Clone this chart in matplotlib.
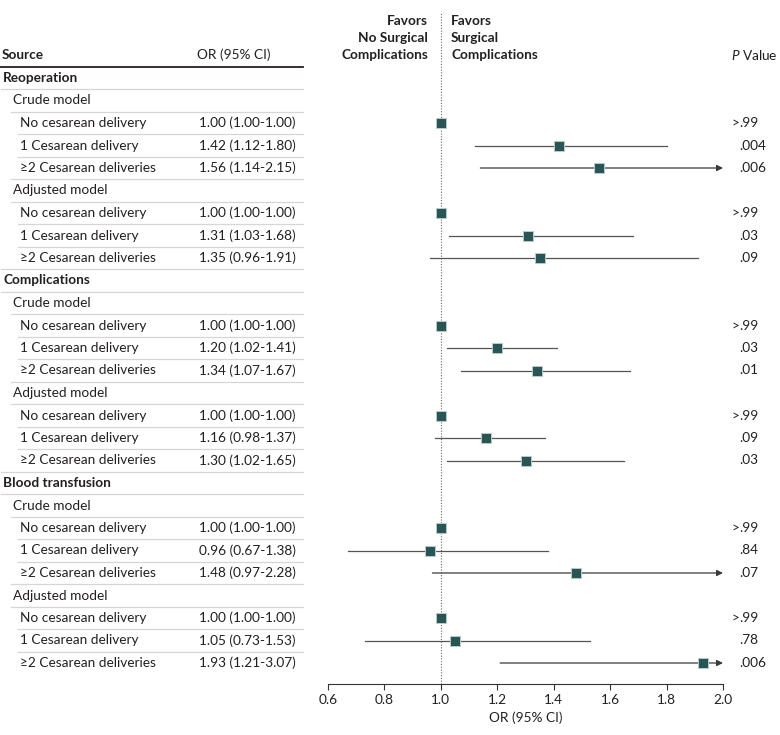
import numpy as np
import matplotlib
matplotlib.use("Agg")
import matplotlib.pyplot as plt
from matplotlib.transforms import blended_transform_factory

plt.rcParams['font.family'] = ['Lato', 'DejaVu Sans']
plt.rcParams['mathtext.fontset'] = 'custom'
plt.rcParams['mathtext.rm'] = 'Lato'
plt.rcParams['mathtext.it'] = 'Lato:italic'

# rows of the table: (label, level)  level 0 = outcome, 1 = model, 2 = exposure
labels = ["Reoperation",
          "Crude model", "No cesarean delivery", "1 Cesarean delivery", "≥2 Cesarean deliveries",
          "Adjusted model", "No cesarean delivery", "1 Cesarean delivery", "≥2 Cesarean deliveries",
          "Complications",
          "Crude model", "No cesarean delivery", "1 Cesarean delivery", "≥2 Cesarean deliveries",
          "Adjusted model", "No cesarean delivery", "1 Cesarean delivery", "≥2 Cesarean deliveries",
          "Blood transfusion",
          "Crude model", "No cesarean delivery", "1 Cesarean delivery", "≥2 Cesarean deliveries",
          "Adjusted model", "No cesarean delivery", "1 Cesarean delivery", "≥2 Cesarean deliveries"]
levels = [0, 1, 2, 2, 2, 1, 2, 2, 2,
          0, 1, 2, 2, 2, 1, 2, 2, 2,
          0, 1, 2, 2, 2, 1, 2, 2, 2]

# estimates for the exposure rows (None for header rows)
odds = [None, None, 1.00, 1.42, 1.56, None, 1.00, 1.31, 1.35,
        None, None, 1.00, 1.20, 1.34, None, 1.00, 1.16, 1.30,
        None, None, 1.00, 0.96, 1.48, None, 1.00, 1.05, 1.93]
lower = [None, None, 1.00, 1.12, 1.14, None, 1.00, 1.03, 0.96,
         None, None, 1.00, 1.02, 1.07, None, 1.00, 0.98, 1.02,
         None, None, 1.00, 0.67, 0.97, None, 1.00, 0.73, 1.21]
upper = [None, None, 1.00, 1.80, 2.15, None, 1.00, 1.68, 1.91,
         None, None, 1.00, 1.41, 1.67, None, 1.00, 1.37, 1.65,
         None, None, 1.00, 1.38, 2.28, None, 1.00, 1.53, 3.07]
pvals = [None, None, ">.99", ".004", ".006", None, ">.99", ".03", ".09",
         None, None, ">.99", ".03", ".01", None, ">.99", ".09", ".03",
         None, None, ">.99", ".84", ".07", None, ">.99", ".78", ".006"]

W, H = 780, 735
fig = plt.figure(figsize=(W / 100, H / 100), dpi=100)

# axes spans x 0.6 .. 2.0 ; y in row units
ax_left, ax_right = 328, 723
ax_top, ax_bot = 13, 684
ax = fig.add_axes([ax_left / W, 1 - ax_bot / H, (ax_right - ax_left) / W, (ax_bot - ax_top) / H])
row0, step = 78, 22.5
ax.set_ylim((ax_bot - row0) / step, (ax_top - row0) / step)
xmin, xmax = 0.6, 2.0
ax.set_xlim(xmin, xmax)

txt = "#231f20"
teal = "#2b5454"
fs = 9.8

for s in ["left", "right", "top"]:
    ax.spines[s].set_visible(False)
ax.spines["bottom"].set_color("#333333")
ax.spines["bottom"].set_linewidth(0.8)
ax.set_yticks([])
ax.set_xticks(np.arange(0.6, 2.01, 0.2))
ax.set_xticklabels(["%.1f" % v for v in np.arange(0.6, 2.01, 0.2)])
ax.tick_params(axis="x", length=4, width=0.8, color="#333333", labelsize=fs, labelcolor=txt, pad=3)
ax.set_xlabel("OR (95% CI)", fontsize=fs, color=txt, labelpad=4)

ax.axvline(1.0, color="#666666", lw=0.8, ls=(0, (1, 1.5)), zorder=1)

for i in range(len(labels)):
    if odds[i] is None:
        continue
    lo, hi = lower[i], min(upper[i], xmax)
    if upper[i] > xmax:
        ax.annotate("", xy=(xmax, i), xytext=(lo, i),
                    arrowprops=dict(arrowstyle="-|>", color="#3a3a3a", lw=0.9,
                                    mutation_scale=9, shrinkA=0, shrinkB=0), zorder=2)
    elif hi > lo:
        ax.plot([lo, hi], [i, i], color="#555555", lw=0.9, zorder=2)
    ax.plot(odds[i], i, marker="s", ms=7, color=teal, mec="#b8cccc", mew=0.7, zorder=3, clip_on=False)

# table on the left
tr = blended_transform_factory(fig.transFigure, ax.transData)
indent = [3, 13, 20]
for i, lab in enumerate(labels):
    x = indent[levels[i]] / W
    ax.text(x, i, lab, transform=tr, fontsize=fs, color=txt, va="center", ha="left",
            fontweight="bold" if levels[i] == 0 else "normal", clip_on=False)
    if odds[i] is not None:
        ax.text(199 / W, i, "%.2f (%.2f-%.2f)" % (odds[i], lower[i], upper[i]), transform=tr,
                fontsize=fs, color=txt, va="center", ha="left", clip_on=False)
        p = pvals[i]
        if p.startswith(">"):
            ax.text(739 / W, i, ">", transform=tr, fontsize=fs, color=txt, va="center", ha="right")
            p = p[1:]
        ax.text(739 / W, i, p, transform=tr, fontsize=fs, color=txt, va="center", ha="left")
    # separator line below row
    if i < len(labels) - 1:
        start = min(indent[levels[i]], indent[levels[i + 1]]) - 2
        ax.plot([max(start, 0) / W, 303 / W], [i + 0.5, i + 0.5], transform=tr,
                color="#d6d6d6", lw=0.9, clip_on=False)

# column headers
hy = (55 - row0) / step
ax.text(2 / W, hy, "Source", transform=tr, fontsize=fs, fontweight="bold", color=txt, va="center")
ax.text(197 / W, hy, "OR (95% CI)", transform=tr, fontsize=fs, color=txt, va="center")
ax.plot([0, 303 / W], [-0.5, -0.5], transform=tr, color="#231f20", lw=1.3, clip_on=False)
ax.text(731 / W, hy, "$P$ Value", transform=tr, fontsize=fs, color=txt, va="center")

fav_y = [(21 - row0) / step, (38 - row0) / step, (55 - row0) / step]
for k, s in enumerate(["Favors", "No Surgical", "Complications"]):
    ax.text(428 / W, fav_y[k], s, transform=tr, fontsize=fs, fontweight="bold", color=txt,
            va="center", ha="right")
for k, s in enumerate(["Favors", "Surgical", "Complications"]):
    ax.text(451 / W, fav_y[k], s, transform=tr, fontsize=fs, fontweight="bold", color=txt,
            va="center", ha="left")

fig.savefig("out.png", dpi=100)
